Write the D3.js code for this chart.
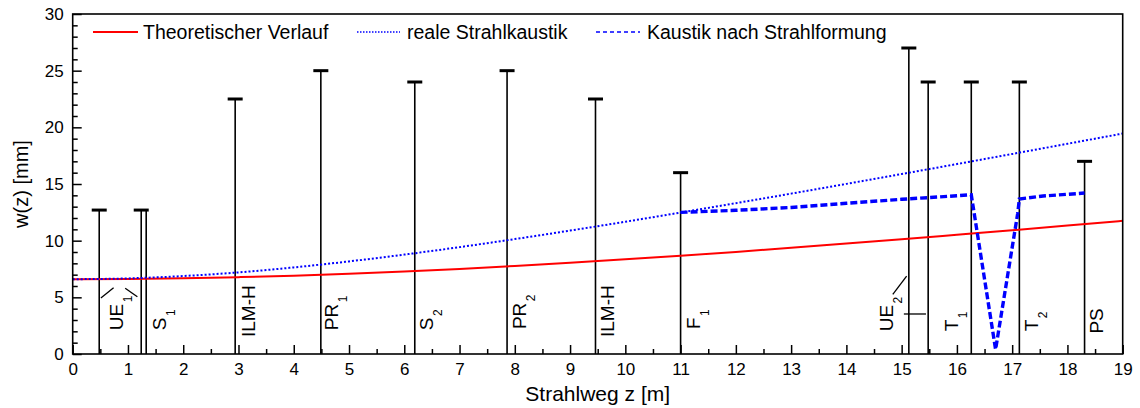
<!DOCTYPE html>
<html>
<head>
<meta charset="utf-8">
<script src="https://cdn.jsdelivr.net/npm/d3@7"></script>
<style>
  html, body { margin: 0; padding: 0; background: #fff; }
  svg { display: block; font-family: "Liberation Sans", Arial, sans-serif; }
</style>
</head>
<body>
<svg id="chart" width="1140" height="408"></svg>
<script>
// Beam radius along the beam path (z in m, w in mm)
const zGrid = [0, 1, 2, 3, 4, 5, 6, 7, 8, 9, 10, 11, 12, 13, 14, 15, 16, 17, 18, 19];
const wTheory = [6.60, 6.62, 6.68, 6.78, 6.91, 7.08, 7.28, 7.51, 7.77, 8.05, 8.35, 8.67, 9.01, 9.37, 9.74, 10.12, 10.52, 10.92, 11.33, 11.75];
const wReal = [6.60, 6.67, 6.88, 7.20, 7.64, 8.17, 8.77, 9.43, 10.14, 10.89, 11.67, 12.48, 13.31, 14.15, 15.01, 15.88, 16.76, 17.65, 18.55, 19.45];

// Caustic after beam shaping
const zShaped = [11.0, 12.0, 13.0, 14.0, 15.0, 16.0, 16.26, 16.70, 17.10, 17.13, 17.56, 18.31];
const wShaped = [12.5, 12.68, 12.93, 13.3, 13.65, 13.96, 14.05, 0.4, 12.4, 13.68, 13.94, 14.2];

// Optical elements: position and free aperture radius
const elemZ = [0.48, 1.24, 1.33, 2.94, 4.49, 6.19, 7.86, 9.46, 11.0, 15.13, 15.48, 16.26, 17.13, 18.31];
const elemTop = [12.7, 12.7, 12.7, 22.5, 25, 24, 25, 22.5, 16, 27, 24, 24, 24, 17];
const elemCap = [true, true, false, true, true, true, true, true, true, true, true, true, true, true];

// Element names (rotated), with subscripts
const labelText = ["UE", "S", "ILM-H", "PR", "S", "PR", "ILM-H", "F", "UE", "T", "T", "PS"];
const labelSub = ["1", "1", "", "1", "2", "2", "", "1", "2", "1", "2", ""];
const labelZ = [0.91, 1.69, 3.30, 4.80, 6.52, 8.20, 9.80, 11.35, 14.84, 16.02, 17.47, 18.65];
const labelW = [2.1, 2.1, 1.5, 2.1, 2.1, 2.2, 1.5, 2.2, 2.0, 2.0, 2.0, 1.8];

// Pointer strokes next to labels
const pointerLines = [
  [[0.51, 4.95], [0.74, 5.85]],
  [[0.95, 5.8], [1.17, 5.05]],
  [[14.84, 5.27], [15.09, 6.88]],
  [[15.04, 3.53], [15.44, 3.53]]
];

const xTicks = d3.range(0, 20, 1);
const yTicks = [0, 5, 10, 15, 20, 25, 30];
const legendLabels = ["Theoretischer Verlauf", "reale Strahlkaustik", "Kaustik nach Strahlformung"];

const svg = d3.select("#chart");
const mLeft = 72.7, mRight = 1122.7, mTop = 14, mBottom = 354;
const x = d3.scaleLinear().domain([0, 19]).range([mLeft, mRight]);
const y = d3.scaleLinear().domain([0, 30]).range([mBottom, mTop]);

// Minor ticks
svg.append("g")
  .attr("transform", `translate(0,${mBottom})`)
  .call(d3.axisBottom(x).tickValues(d3.range(0.5, 19, 1)).tickSize(-5).tickFormat(""))
  .call(g => g.select(".domain").remove())
  .call(g => g.selectAll("line").attr("stroke", "#000").attr("stroke-width", 1.5));
svg.append("g")
  .attr("transform", `translate(${mLeft},0)`)
  .call(d3.axisLeft(y).tickValues(d3.range(1, 30, 1).filter(v => v % 5 !== 0)).tickSize(-5).tickFormat(""))
  .call(g => g.select(".domain").remove())
  .call(g => g.selectAll("line").attr("stroke", "#000").attr("stroke-width", 1.5));

// Major ticks with labels
svg.append("g")
  .attr("transform", `translate(0,${mBottom})`)
  .call(d3.axisBottom(x).tickValues(xTicks).tickSize(-9).tickPadding(9).tickFormat(d3.format("d")))
  .call(g => g.select(".domain").remove())
  .call(g => g.selectAll("line").attr("stroke", "#000").attr("stroke-width", 1.5))
  .call(g => g.selectAll("text").attr("font-size", 17).attr("fill", "#000")
    .attr("font-family", "Liberation Sans, Arial, sans-serif"));
svg.append("g")
  .attr("transform", `translate(${mLeft},0)`)
  .call(d3.axisLeft(y).tickValues(yTicks).tickSize(-9).tickPadding(9).tickFormat(d3.format("d")))
  .call(g => g.select(".domain").remove())
  .call(g => g.selectAll("line").attr("stroke", "#000").attr("stroke-width", 1.5))
  .call(g => g.selectAll("text").attr("font-size", 17).attr("fill", "#000")
    .attr("font-family", "Liberation Sans, Arial, sans-serif"));

// Optical elements
const elems = elemZ.map((z, i) => ({ z, top: elemTop[i], cap: elemCap[i] }));
svg.append("g").selectAll("line").data(elems).join("line")
  .attr("x1", d => x(d.z)).attr("x2", d => x(d.z))
  .attr("y1", y(0)).attr("y2", d => y(d.top))
  .attr("stroke", "#000").attr("stroke-width", 1.6);
svg.append("g").selectAll("line").data(elems.filter(d => d.cap)).join("line")
  .attr("x1", d => x(d.z) - 7.5).attr("x2", d => x(d.z) + 7.5)
  .attr("y1", d => y(d.top)).attr("y2", d => y(d.top))
  .attr("stroke", "#000").attr("stroke-width", 3);

// Pointer strokes
svg.append("g").selectAll("line").data(pointerLines).join("line")
  .attr("x1", d => x(d[0][0])).attr("y1", d => y(d[0][1]))
  .attr("x2", d => x(d[1][0])).attr("y2", d => y(d[1][1]))
  .attr("stroke", "#000").attr("stroke-width", 1.3);

// Element labels
const labels = svg.append("g").selectAll("text").data(labelText.map((t, i) => ({
  t, sub: labelSub[i], z: labelZ[i], w: labelW[i]
}))).join("text")
  .attr("transform", d => `translate(${x(d.z)},${y(d.w)}) rotate(-90)`)
  .attr("font-size", 19).attr("fill", "#000");
labels.append("tspan").text(d => d.t);
labels.filter(d => d.sub).append("tspan")
  .attr("font-size", 12).attr("dx", 1.5).attr("dy", 9)
  .text(d => d.sub);

// Curves
const lineGen = d3.line().x(d => x(d[0])).y(d => y(d[1]));
const smooth = d3.line().x(d => x(d[0])).y(d => y(d[1])).curve(d3.curveMonotoneX);

svg.append("path")
  .datum(zGrid.map((z, i) => [z, wTheory[i]]))
  .attr("d", smooth).attr("fill", "none")
  .attr("stroke", "#ff0000").attr("stroke-width", 2);
svg.append("path")
  .datum(zGrid.map((z, i) => [z, wReal[i]]))
  .attr("d", smooth).attr("fill", "none")
  .attr("stroke", "#0000ff").attr("stroke-width", 2).attr("stroke-dasharray", "2,2");
svg.append("path")
  .datum(zShaped.map((z, i) => [z, wShaped[i]]))
  .attr("d", lineGen).attr("fill", "none")
  .attr("stroke", "#0000ff").attr("stroke-width", 3.4).attr("stroke-dasharray", "7,3");

// Frame
svg.append("rect")
  .attr("x", mLeft).attr("y", mTop).attr("width", mRight - mLeft).attr("height", mBottom - mTop)
  .attr("fill", "none").attr("stroke", "#000").attr("stroke-width", 1.6);

// Legend
const legendItems = [
  { label: legendLabels[0], x1: 93, x2: 138, tx: 143, dash: null, color: "#ff0000", w: 2 },
  { label: legendLabels[1], x1: 357, x2: 400, tx: 407, dash: "1.5,1.5", color: "#0000ff", w: 1.5 },
  { label: legendLabels[2], x1: 596, x2: 640, tx: 647, dash: "4,3", color: "#0000ff", w: 1.6 }
];
const leg = svg.append("g").selectAll("g").data(legendItems).join("g");
leg.append("line")
  .attr("x1", d => d.x1).attr("x2", d => d.x2).attr("y1", 32).attr("y2", 32)
  .attr("stroke", d => d.color).attr("stroke-width", d => d.w)
  .attr("stroke-dasharray", d => d.dash);
leg.append("text")
  .attr("x", d => d.tx).attr("y", 39.3)
  .attr("font-size", 19.5).attr("fill", "#000")
  .text(d => d.label);

// Axis titles
svg.append("text")
  .attr("x", (mLeft + mRight) / 2).attr("y", 401)
  .attr("text-anchor", "middle").attr("font-size", 21).attr("fill", "#000")
  .text("Strahlweg z [m]");
svg.append("text")
  .attr("transform", `translate(28,${(mTop + mBottom) / 2}) rotate(-90)`)
  .attr("text-anchor", "middle").attr("font-size", 20).attr("fill", "#000")
  .text("w(z) [mm]");
</script>
</body>
</html>
